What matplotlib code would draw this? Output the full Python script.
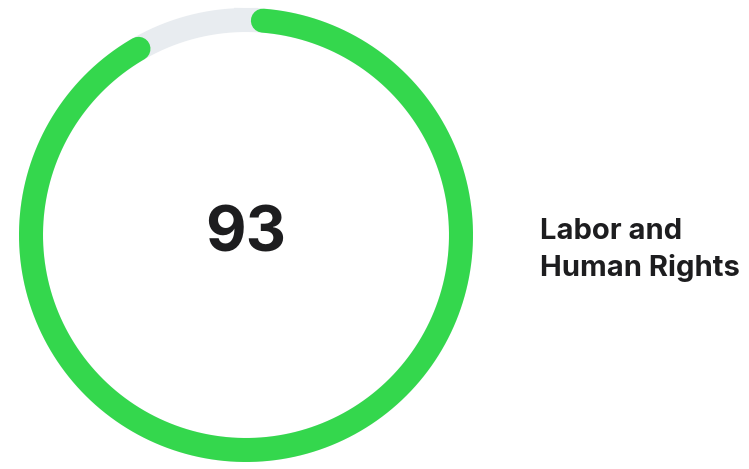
import matplotlib
matplotlib.use('Agg')
from matplotlib import pyplot as plt
import numpy as np

score = 93
label_lines = ['Labor and', 'Human Rights']

green = '#34d74d'
track = '#e8ecf0'
ink = '#1d1d1f'

W, H = 749, 469
fig = plt.figure(figsize=(W / 100, H / 100), dpi=100)
ax = fig.add_axes([0, 0, 1, 1])
ax.set_xlim(0, W)
ax.set_ylim(H, 0)
ax.axis('off')

cx, cy, r = 246, 235, 215
lw = 24 * 72 / 100

# full track
t = np.linspace(0, 2 * np.pi, 400)
ax.plot(cx + r * np.sin(t), cy - r * np.cos(t), color=track, lw=lw)

# value arc, clockwise from top
start = np.radians(4.5)
span = np.radians(score / 100 * 350)
t = np.linspace(start, start + span, 400)
ax.plot(cx + r * np.sin(t), cy - r * np.cos(t), color=green, lw=lw,
        solid_capstyle='round')

ax.text(cx, 252, str(score), ha='center', va='baseline', fontsize=45,
        fontweight='bold', family='Inter', color=ink)
for i, line in enumerate(label_lines):
    ax.text(540, 239 + 37 * i, line, ha='left', va='baseline', fontsize=21,
            fontweight='bold', family='Inter', color=ink)

fig.savefig('out.png', dpi=100)
